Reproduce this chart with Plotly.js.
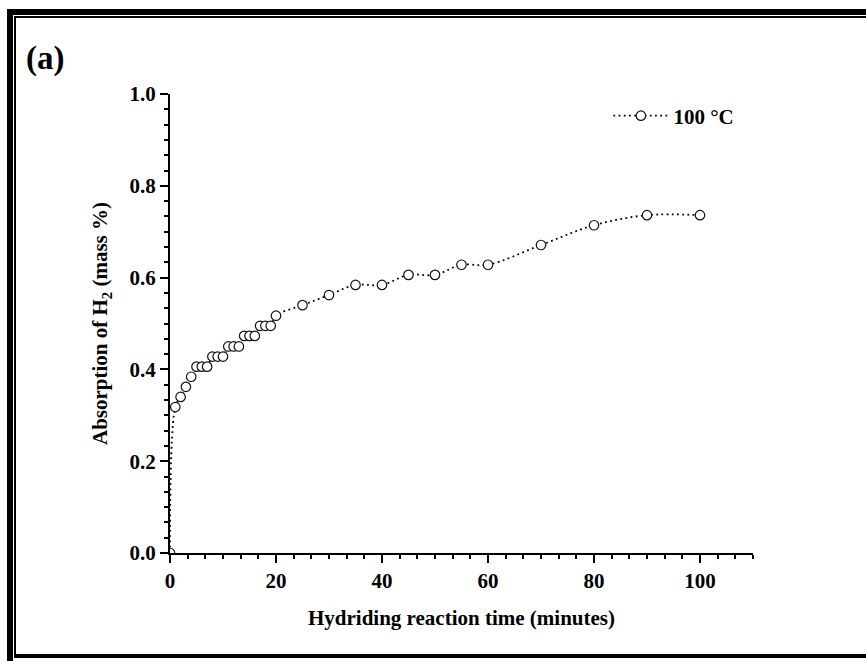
<!DOCTYPE html>
<html>
<head>
<meta charset="utf-8">
<script src="https://cdn.plot.ly/plotly-3.0.1.min.js"></script>
<style>
  html, body { margin: 0; padding: 0; background: #fff; }
  #wrap { position: relative; width: 866px; height: 661px; overflow: hidden; }
  #chart { position: absolute; left: 0; top: 0; width: 866px; height: 661px; }
  .frame-outer { position: absolute; left: 7px; top: 9px; width: 900px; height: 700px; border-left: 6px solid #000; border-top: 6px solid #000; box-sizing: border-box; pointer-events: none; }
  .frame-inner { position: absolute; left: 14px; top: 16px; width: 900px; height: 642px; border-left: 2px solid #000; border-top: 2px solid #000; border-bottom: 4px solid #000; box-sizing: border-box; pointer-events: none; }
</style>
</head>
<body>
<div id="wrap">
  <div id="chart"></div>
  <div class="frame-outer"></div>
  <div class="frame-inner"></div>
</div>
<script>
// Hydriding reaction time (minutes)
const timeMinutes = [0, 1, 2, 3, 4, 5, 6, 7, 8, 9, 10, 11, 12, 13, 14, 15, 16, 17, 18, 19, 20, 25, 30, 35, 40, 45, 50, 55, 60, 70, 80, 90, 100];
// Absorption of H2 (mass %) at 100 °C
const absorption100C = [0.000, 0.318, 0.340, 0.362, 0.384, 0.406, 0.406, 0.406, 0.428, 0.428, 0.428, 0.450, 0.450, 0.450, 0.473, 0.473, 0.473, 0.495, 0.495, 0.495, 0.517, 0.540, 0.562, 0.584, 0.584, 0.606, 0.606, 0.628, 0.628, 0.671, 0.714, 0.736, 0.736];
const seriesName = '100 °C';
const xTicks = [0, 20, 40, 60, 80, 100];
const yTicks = [0.0, 0.2, 0.4, 0.6, 0.8, 1.0];
const yTickText = ['0.0', '0.2', '0.4', '0.6', '0.8', '1.0'];

const FONT = '"Liberation Serif", "Times New Roman", serif';

const trace = {
  x: timeMinutes,
  y: absorption100C,
  name: seriesName,
  type: 'scatter',
  mode: 'lines+markers',
  line: { color: '#000', width: 1.8, dash: '1.8px,3.4px', shape: 'spline', smoothing: 1 },
  marker: { symbol: 'circle', size: 9.5, color: '#fff', line: { color: '#111', width: 1.2 } },
  cliponaxis: true
};

const axisCommon = {
  showgrid: false,
  zeroline: false,
  showline: true,
  linecolor: '#000',
  linewidth: 2,
  ticks: 'outside',
  ticklen: 8,
  tickwidth: 2,
  tickcolor: '#000',
  tickfont: { family: FONT, size: 21, color: '#000', weight: 'bold' },
  mirror: false
};

const layout = {
  width: 866,
  height: 661,
  margin: { l: 170, r: 113, t: 94, b: 108 },
  paper_bgcolor: '#fff',
  plot_bgcolor: '#fff',
  font: { family: FONT, color: '#000' },
  showlegend: true,
  legend: {
    x: 0.752, y: 0.952, xanchor: 'left', yanchor: 'middle',
    bgcolor: 'rgba(0,0,0,0)',
    font: { family: FONT, size: 21, color: '#000', weight: 'bold' },
    itemwidth: 55
  },
  xaxis: Object.assign({}, axisCommon, {
    range: [0, 110],
    tickvals: xTicks,
    ticktext: xTicks.map(String),
    minor: { dtick: 20 / 6, tick0: 0, ticks: 'outside', ticklen: 4, tickwidth: 2, tickcolor: '#000', showgrid: false },
    title: { text: '<b>Hydriding reaction time (minutes)</b>', font: { family: FONT, size: 21, color: '#000' }, standoff: 18 }
  }),
  yaxis: Object.assign({}, axisCommon, {
    range: [0, 1.0],
    tickvals: yTicks,
    ticktext: yTickText,
    minor: { dtick: 0.2 / 6, tick0: 0, ticks: 'outside', ticklen: 4, tickwidth: 2, tickcolor: '#000', showgrid: false },
    title: { text: '<b>Absorption of H<sub>2</sub> (mass %)</b>', font: { family: FONT, size: 21, color: '#000' }, standoff: 16 }
  }),
  annotations: [{
    text: '<b>(a)</b>', xref: 'paper', yref: 'paper',
    x: -0.251, y: 1.077, xanchor: 'left', yanchor: 'middle', showarrow: false,
    font: { family: FONT, size: 33, color: '#000' }
  }]
};

Plotly.newPlot('chart', [trace], layout, { staticPlot: true, displayModeBar: false });
</script>
</body>
</html>
